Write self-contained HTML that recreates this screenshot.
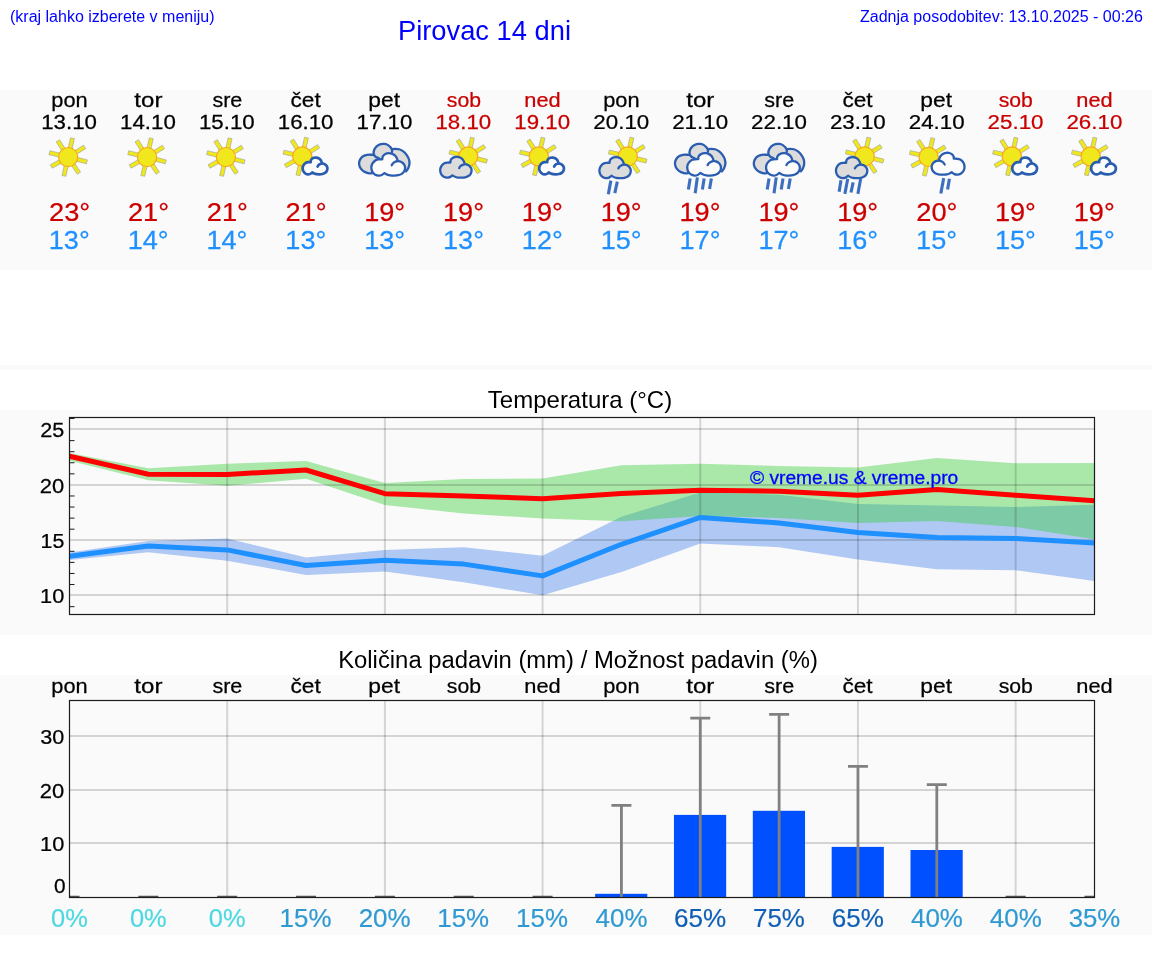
<!DOCTYPE html>
<html lang="sl">
<head>
<meta charset="utf-8">
<title>Pirovac 14 dni</title>
<style>
html,body{margin:0;padding:0;background:#fff}
body{width:1152px;height:975px;position:relative;overflow:hidden;font-family:"Liberation Sans",sans-serif;color:#000}
.abs{position:absolute;white-space:nowrap;line-height:1}
.band{position:absolute;left:0;width:1152px;background:#fafafa}
.hd{color:#0000ff;font-size:16px}
h1{margin:0;font-weight:normal;font-size:27.3px;color:#0000ff}
h2{margin:0;font-weight:normal;font-size:24px;color:#000;text-align:center;width:1152px;left:0}
svg{position:absolute;left:0;top:0;overflow:visible}
body>*{will-change:transform}
svg text{font-family:"Liberation Sans",sans-serif;font-kerning:none}
</style>
</head>
<body>
<div class="abs hd" style="left:10px;top:8.5px">(kraj lahko izberete v meniju)</div>
<h1 class="abs" style="left:398px;top:16.5px">Pirovac 14 dni</h1>
<div class="abs hd" style="right:9px;top:8.5px">Zadnja posodobitev: 13.10.2025 - 00:26</div>

<div class="band" style="top:90px;height:180px"></div>
<div class="band" style="top:365px;height:4.8px"></div>
<div class="band" style="top:410px;height:225px"></div>
<div class="band" style="top:675px;height:260px"></div>

<h2 class="abs" style="top:388px;left:4px">Temperatura (°C)</h2>
<h2 class="abs" style="top:648px;left:2px;font-size:23.85px">Količina padavin (mm) / Možnost padavin (%)</h2>

<svg width="1152" height="975" viewBox="0 0 1152 975">
<g id="table">
<g><text transform="translate(51.3 106.7) scale(1.06 1)" font-size="20.59" fill="#000" stroke="#000" stroke-width="0.25">pon</text><text transform="translate(41.21 129) scale(1.109 1)" font-size="20.1" fill="#000" stroke="#000" stroke-width="0.25">13.10</text><g transform="translate(68.2 157.1)"><g fill="#f0e81c" stroke="#8a94ad" stroke-opacity=".7" stroke-width=".7"><rect x="-2" y="-19.3" width="4" height="10.5" transform="rotate(12.6)"/><rect x="-2" y="-19.3" width="4" height="10.5" transform="rotate(58.2)"/><rect x="-2" y="-19.3" width="4" height="10.5" transform="rotate(104.2)"/><rect x="-2" y="-19.3" width="4" height="10.5" transform="rotate(146.3)"/><rect x="-2" y="-19.3" width="4" height="10.5" transform="rotate(192.8)"/><rect x="-2" y="-19.3" width="4" height="10.5" transform="rotate(240.9)"/><rect x="-2" y="-19.3" width="4" height="10.5" transform="rotate(283.2)"/><rect x="-2" y="-19.3" width="4" height="10.5" transform="rotate(327.7)"/></g><circle r="9.6" fill="#f0e81c" stroke="#f7a823" stroke-width="1.2"/></g><text transform="translate(49.04 221.2) scale(1.041 1)" font-size="26.16" fill="#cc0000" stroke="#cc0000" stroke-width="0.25">23°</text><text transform="translate(48.78 249.2) scale(1.036 1)" font-size="26.16" fill="#1e90ff" stroke="#1e90ff" stroke-width="0.25">13°</text></g>
<g><text transform="translate(134.31 106.7) scale(1.17 1)" font-size="20.59" fill="#000" stroke="#000" stroke-width="0.25">tor</text><text transform="translate(120.05 129) scale(1.109 1)" font-size="20.1" fill="#000" stroke="#000" stroke-width="0.25">14.10</text><g transform="translate(147.05 157.1)"><g fill="#f0e81c" stroke="#8a94ad" stroke-opacity=".7" stroke-width=".7"><rect x="-2" y="-19.3" width="4" height="10.5" transform="rotate(12.6)"/><rect x="-2" y="-19.3" width="4" height="10.5" transform="rotate(58.2)"/><rect x="-2" y="-19.3" width="4" height="10.5" transform="rotate(104.2)"/><rect x="-2" y="-19.3" width="4" height="10.5" transform="rotate(146.3)"/><rect x="-2" y="-19.3" width="4" height="10.5" transform="rotate(192.8)"/><rect x="-2" y="-19.3" width="4" height="10.5" transform="rotate(240.9)"/><rect x="-2" y="-19.3" width="4" height="10.5" transform="rotate(283.2)"/><rect x="-2" y="-19.3" width="4" height="10.5" transform="rotate(327.7)"/></g><circle r="9.6" fill="#f0e81c" stroke="#f7a823" stroke-width="1.2"/></g><text transform="translate(127.89 221.2) scale(1.041 1)" font-size="26.16" fill="#cc0000" stroke="#cc0000" stroke-width="0.25">21°</text><text transform="translate(127.63 249.2) scale(1.036 1)" font-size="26.16" fill="#1e90ff" stroke="#1e90ff" stroke-width="0.25">14°</text></g>
<g><text transform="translate(212.41 106.7) scale(1.046 1)" font-size="20.59" fill="#000" stroke="#000" stroke-width="0.25">sre</text><text transform="translate(198.9 129) scale(1.109 1)" font-size="20.1" fill="#000" stroke="#000" stroke-width="0.25">15.10</text><g transform="translate(225.89 157.1)"><g fill="#f0e81c" stroke="#8a94ad" stroke-opacity=".7" stroke-width=".7"><rect x="-2" y="-19.3" width="4" height="10.5" transform="rotate(12.6)"/><rect x="-2" y="-19.3" width="4" height="10.5" transform="rotate(58.2)"/><rect x="-2" y="-19.3" width="4" height="10.5" transform="rotate(104.2)"/><rect x="-2" y="-19.3" width="4" height="10.5" transform="rotate(146.3)"/><rect x="-2" y="-19.3" width="4" height="10.5" transform="rotate(192.8)"/><rect x="-2" y="-19.3" width="4" height="10.5" transform="rotate(240.9)"/><rect x="-2" y="-19.3" width="4" height="10.5" transform="rotate(283.2)"/><rect x="-2" y="-19.3" width="4" height="10.5" transform="rotate(327.7)"/></g><circle r="9.6" fill="#f0e81c" stroke="#f7a823" stroke-width="1.2"/></g><text transform="translate(206.74 221.2) scale(1.041 1)" font-size="26.16" fill="#cc0000" stroke="#cc0000" stroke-width="0.25">21°</text><text transform="translate(206.48 249.2) scale(1.036 1)" font-size="26.16" fill="#1e90ff" stroke="#1e90ff" stroke-width="0.25">14°</text></g>
<g><text transform="translate(290.52 106.7) scale(1.101 1)" font-size="20.59" fill="#000" stroke="#000" stroke-width="0.25">čet</text><text transform="translate(277.74 129) scale(1.109 1)" font-size="20.1" fill="#000" stroke="#000" stroke-width="0.25">16.10</text><g transform="translate(302.24 156.5)"><g fill="#f0e81c" stroke="#8a94ad" stroke-opacity=".7" stroke-width=".7"><rect x="-2" y="-19.3" width="4" height="10.5" transform="rotate(12.6)"/><rect x="-2" y="-19.3" width="4" height="10.5" transform="rotate(58.2)"/><rect x="-2" y="-19.3" width="4" height="10.5" transform="rotate(104.2)"/><rect x="-2" y="-19.3" width="4" height="10.5" transform="rotate(146.3)"/><rect x="-2" y="-19.3" width="4" height="10.5" transform="rotate(192.8)"/><rect x="-2" y="-19.3" width="4" height="10.5" transform="rotate(240.9)"/><rect x="-2" y="-19.3" width="4" height="10.5" transform="rotate(283.2)"/><rect x="-2" y="-19.3" width="4" height="10.5" transform="rotate(327.7)"/></g><circle r="9.6" fill="#f0e81c" stroke="#f7a823" stroke-width="1.2"/></g><path d="M312.3 172.4C311.96 172.65 311 173.55 310.29 173.87C309.57 174.19 308.78 174.36 307.99 174.31C307.2 174.26 306.27 173.99 305.55 173.58C304.83 173.16 304.15 172.5 303.69 171.82C303.22 171.13 302.91 170.3 302.77 169.47C302.62 168.64 302.62 167.66 302.82 166.83C303.03 166 303.45 165.17 303.97 164.48C304.5 163.8 305.26 163.11 305.98 162.72C306.7 162.33 307.49 162.24 308.28 162.14C309.07 162.03 310.31 162.09 310.72 162.08C310.74 161.79 310.65 160.93 310.86 160.38C311.08 159.82 311.48 159.2 312.01 158.76C312.54 158.32 313.3 157.93 314.02 157.73C314.74 157.54 315.55 157.49 316.31 157.59C317.08 157.69 317.94 157.98 318.61 158.32C319.28 158.66 319.88 159.15 320.33 159.64C320.79 160.13 321.06 160.64 321.34 161.26C321.62 161.87 321.89 162.97 322 163.31C322.29 163.46 323.15 163.5 323.78 163.75C324.41 164 325.24 164.41 325.79 164.92C326.34 165.44 326.82 166.17 327.08 166.83C327.34 167.49 327.44 168.15 327.37 168.88C327.29 169.62 327.05 170.55 326.65 171.23C326.24 171.92 325.64 172.53 324.93 172.99C324.21 173.46 323.25 173.8 322.34 174.02C321.43 174.24 320.43 174.29 319.47 174.31C318.52 174.34 317.46 174.29 316.6 174.17C315.74 174.04 315.02 173.87 314.31 173.58C313.59 173.29 312.63 172.6 312.3 172.4Z" fill="#fcfcfc" stroke="#2a5db0" stroke-width="2.7" stroke-linejoin="round"/><path d="M317.61 166.54C317.73 166.34 317.97 165.75 318.32 165.36C318.68 164.97 319.15 164.52 319.76 164.19C320.37 163.86 321.62 163.53 322 163.4" fill="none" stroke="#2a5db0" stroke-width="2.7" stroke-linecap="round"/><text transform="translate(285.58 221.2) scale(1.041 1)" font-size="26.16" fill="#cc0000" stroke="#cc0000" stroke-width="0.25">21°</text><text transform="translate(285.32 249.2) scale(1.036 1)" font-size="26.16" fill="#1e90ff" stroke="#1e90ff" stroke-width="0.25">13°</text></g>
<g><text transform="translate(368.37 106.7) scale(1.109 1)" font-size="20.59" fill="#000" stroke="#000" stroke-width="0.25">pet</text><text transform="translate(356.59 129) scale(1.109 1)" font-size="20.1" fill="#000" stroke="#000" stroke-width="0.25">17.10</text><path d="M372.51 173.09C371.95 173.13 370.33 173.49 369.11 173.33C367.9 173.17 366.44 172.72 365.22 172.11C364.01 171.51 362.75 170.65 361.82 169.68C360.89 168.71 360.08 167.49 359.63 166.28C359.19 165.06 358.98 163.65 359.14 162.39C359.31 161.13 359.87 159.8 360.6 158.74C361.33 157.69 362.43 156.72 363.52 156.07C364.61 155.42 365.91 155.07 367.17 154.86C368.42 154.64 369.99 154.73 371.06 154.76C372.12 154.78 373.16 154.96 373.58 155L373.73 153.64C373.81 152.99 373.69 151.01 374.22 149.75C374.74 148.49 375.8 147.04 376.89 146.1C377.98 145.17 379.48 144.52 380.78 144.16C382.07 143.8 383.45 143.75 384.67 143.92C385.88 144.08 387.06 144.52 388.07 145.13C389.08 145.74 390.08 146.71 390.74 147.56C391.41 148.41 391.84 149.79 392.06 150.24L392.2 149.26C392.67 149.18 393.86 148.78 395.02 148.78C396.18 148.78 397.78 148.82 399.15 149.26C400.52 149.71 401.97 150.48 403.24 151.45C404.5 152.42 405.78 153.76 406.74 155.1C407.69 156.44 408.52 158.02 408.97 159.47C409.43 160.93 409.59 162.39 409.46 163.85C409.33 165.31 408.76 166.97 408.2 168.22C407.63 169.48 406.41 170.86 406.06 171.38Z" fill="#dcdcdc"/><path d="M372.51 173.09C371.95 173.13 370.33 173.49 369.11 173.33C367.9 173.17 366.44 172.72 365.22 172.11C364.01 171.51 362.75 170.65 361.82 169.68C360.89 168.71 360.08 167.49 359.63 166.28C359.19 165.06 358.98 163.65 359.14 162.39C359.31 161.13 359.87 159.8 360.6 158.74C361.33 157.69 362.43 156.72 363.52 156.07C364.61 155.42 365.91 155.07 367.17 154.86C368.42 154.64 369.99 154.73 371.06 154.76C372.12 154.78 373.16 154.96 373.58 155" fill="none" stroke="#2a5db0" stroke-width="2.3" stroke-linecap="round"/><path d="M378.83 158.26C378.27 157.97 376.28 157.33 375.43 156.56C374.58 155.79 373.93 154.77 373.73 153.64C373.53 152.51 373.69 151.01 374.22 149.75C374.74 148.49 375.8 147.04 376.89 146.1C377.98 145.17 379.48 144.52 380.78 144.16C382.07 143.8 383.45 143.75 384.67 143.92C385.88 144.08 387.06 144.52 388.07 145.13C389.08 145.74 390.08 146.71 390.74 147.56C391.41 148.41 391.87 149.45 392.06 150.24C392.24 151.02 391.89 151.94 391.86 152.28" fill="none" stroke="#2a5db0" stroke-width="2.3" stroke-linecap="round"/><path d="M392.2 149.26C392.67 149.18 393.86 148.78 395.02 148.78C396.18 148.78 397.78 148.82 399.15 149.26C400.52 149.71 401.97 150.48 403.24 151.45C404.5 152.42 405.78 153.76 406.74 155.1C407.69 156.44 408.52 158.02 408.97 159.47C409.43 160.93 409.59 162.39 409.46 163.85C409.33 165.31 408.76 166.97 408.2 168.22C407.63 169.48 406.41 170.86 406.06 171.38" fill="none" stroke="#2a5db0" stroke-width="2.3" stroke-linecap="round"/><path d="M384.49 173.08C384.04 173.41 382.73 174.62 381.75 175.04C380.77 175.47 379.69 175.7 378.62 175.63C377.54 175.57 376.26 175.21 375.28 174.65C374.31 174.1 373.37 173.21 372.74 172.3C372.1 171.38 371.68 170.27 371.48 169.16C371.29 168.05 371.29 166.74 371.56 165.63C371.84 164.52 372.41 163.4 373.13 162.49C373.85 161.57 374.89 160.66 375.87 160.13C376.85 159.61 377.93 159.49 379.01 159.35C380.08 159.21 381.78 159.28 382.34 159.27C382.37 158.89 382.24 157.73 382.53 157C382.83 156.26 383.38 155.43 384.1 154.84C384.82 154.25 385.86 153.73 386.84 153.46C387.82 153.2 388.93 153.14 389.98 153.27C391.02 153.4 392.2 153.79 393.11 154.25C394.03 154.71 394.84 155.36 395.46 156.01C396.09 156.67 396.46 157.35 396.84 158.17C397.22 158.99 397.59 160.46 397.74 160.92C398.14 161.11 399.31 161.17 400.17 161.51C401.03 161.85 402.16 162.39 402.91 163.08C403.66 163.76 404.31 164.74 404.67 165.63C405.03 166.51 405.16 167.39 405.07 168.37C404.97 169.35 404.64 170.6 404.09 171.51C403.53 172.43 402.71 173.25 401.73 173.87C400.75 174.49 399.45 174.95 398.21 175.24C396.97 175.53 395.6 175.6 394.29 175.63C392.98 175.66 391.55 175.6 390.37 175.44C389.2 175.27 388.22 175.04 387.24 174.65C386.26 174.26 384.95 173.34 384.49 173.08Z" fill="#fcfcfc" stroke="#2a5db0" stroke-width="2.3" stroke-linejoin="round"/><path d="M391.74 165.23C391.91 164.97 392.23 164.19 392.72 163.67C393.21 163.14 393.85 162.53 394.68 162.1C395.52 161.66 397.23 161.21 397.74 161.04" fill="none" stroke="#2a5db0" stroke-width="2.3" stroke-linecap="round"/><text transform="translate(364.17 221.2) scale(1.036 1)" font-size="26.16" fill="#cc0000" stroke="#cc0000" stroke-width="0.25">19°</text><text transform="translate(364.17 249.2) scale(1.036 1)" font-size="26.16" fill="#1e90ff" stroke="#1e90ff" stroke-width="0.25">13°</text></g>
<g><text transform="translate(446.8 106.7) scale(1.029 1)" font-size="20.59" fill="#c80000" stroke="#c80000" stroke-width="0.25">sob</text><text transform="translate(435.44 129) scale(1.109 1)" font-size="20.1" fill="#c80000" stroke="#c80000" stroke-width="0.25">18.10</text><g transform="translate(468.23 156.5)"><g fill="#f0e81c" stroke="#8a94ad" stroke-opacity=".7" stroke-width=".7"><rect x="-2" y="-19.3" width="4" height="10.5" transform="rotate(12.6)"/><rect x="-2" y="-19.3" width="4" height="10.5" transform="rotate(58.2)"/><rect x="-2" y="-19.3" width="4" height="10.5" transform="rotate(104.2)"/><rect x="-2" y="-19.3" width="4" height="10.5" transform="rotate(146.3)"/><rect x="-2" y="-19.3" width="4" height="10.5" transform="rotate(192.8)"/><rect x="-2" y="-19.3" width="4" height="10.5" transform="rotate(240.9)"/><rect x="-2" y="-19.3" width="4" height="10.5" transform="rotate(283.2)"/><rect x="-2" y="-19.3" width="4" height="10.5" transform="rotate(327.7)"/></g><circle r="9.6" fill="#f0e81c" stroke="#f7a823" stroke-width="1.2"/></g><path d="M452.44 175.33C452.01 175.63 450.8 176.76 449.89 177.15C448.98 177.55 447.97 177.76 446.97 177.7C445.97 177.64 444.78 177.31 443.87 176.79C442.96 176.27 442.09 175.45 441.5 174.6C440.91 173.75 440.52 172.72 440.34 171.69C440.15 170.65 440.15 169.44 440.41 168.4C440.67 167.37 441.2 166.34 441.87 165.49C442.54 164.64 443.51 163.79 444.42 163.3C445.33 162.81 446.33 162.7 447.34 162.57C448.34 162.44 449.92 162.51 450.43 162.5C450.46 162.15 450.34 161.07 450.62 160.38C450.89 159.7 451.41 158.92 452.07 158.38C452.74 157.83 453.72 157.34 454.63 157.1C455.54 156.86 456.57 156.8 457.54 156.92C458.51 157.04 459.61 157.41 460.46 157.83C461.31 158.26 462.07 158.86 462.65 159.47C463.22 160.08 463.57 160.72 463.92 161.48C464.27 162.24 464.62 163.6 464.76 164.03C465.14 164.21 466.22 164.26 467.02 164.58C467.82 164.89 468.87 165.4 469.57 166.03C470.27 166.67 470.88 167.58 471.21 168.4C471.55 169.22 471.67 170.04 471.58 170.96C471.49 171.87 471.18 173.02 470.67 173.87C470.15 174.72 469.39 175.48 468.48 176.06C467.57 176.64 466.35 177.06 465.2 177.34C464.04 177.61 462.77 177.67 461.55 177.7C460.34 177.73 459 177.67 457.91 177.52C456.81 177.37 455.9 177.15 454.99 176.79C454.08 176.42 452.86 175.57 452.44 175.33Z" fill="#dcdcdc" stroke="#2a5db0" stroke-width="2.3" stroke-linejoin="round"/><path d="M459.18 168.04C459.33 167.8 459.64 167.07 460.09 166.58C460.55 166.09 461.14 165.53 461.92 165.12C462.69 164.72 464.29 164.3 464.76 164.14" fill="none" stroke="#2a5db0" stroke-width="2.3" stroke-linecap="round"/><text transform="translate(443.01 221.2) scale(1.036 1)" font-size="26.16" fill="#cc0000" stroke="#cc0000" stroke-width="0.25">19°</text><text transform="translate(443.01 249.2) scale(1.036 1)" font-size="26.16" fill="#1e90ff" stroke="#1e90ff" stroke-width="0.25">13°</text></g>
<g><text transform="translate(524.36 106.7) scale(1.059 1)" font-size="20.59" fill="#c80000" stroke="#c80000" stroke-width="0.25">ned</text><text transform="translate(514.28 129) scale(1.109 1)" font-size="20.1" fill="#c80000" stroke="#c80000" stroke-width="0.25">19.10</text><g transform="translate(538.78 156.5)"><g fill="#f0e81c" stroke="#8a94ad" stroke-opacity=".7" stroke-width=".7"><rect x="-2" y="-19.3" width="4" height="10.5" transform="rotate(12.6)"/><rect x="-2" y="-19.3" width="4" height="10.5" transform="rotate(58.2)"/><rect x="-2" y="-19.3" width="4" height="10.5" transform="rotate(104.2)"/><rect x="-2" y="-19.3" width="4" height="10.5" transform="rotate(146.3)"/><rect x="-2" y="-19.3" width="4" height="10.5" transform="rotate(192.8)"/><rect x="-2" y="-19.3" width="4" height="10.5" transform="rotate(240.9)"/><rect x="-2" y="-19.3" width="4" height="10.5" transform="rotate(283.2)"/><rect x="-2" y="-19.3" width="4" height="10.5" transform="rotate(327.7)"/></g><circle r="9.6" fill="#f0e81c" stroke="#f7a823" stroke-width="1.2"/></g><path d="M548.83 172.4C548.5 172.65 547.54 173.55 546.83 173.87C546.11 174.19 545.32 174.36 544.53 174.31C543.74 174.26 542.81 173.99 542.09 173.58C541.37 173.16 540.69 172.5 540.22 171.82C539.76 171.13 539.45 170.3 539.31 169.47C539.16 168.64 539.16 167.66 539.36 166.83C539.56 166 539.98 165.17 540.51 164.48C541.04 163.8 541.8 163.11 542.52 162.72C543.24 162.33 544.03 162.24 544.82 162.14C545.61 162.03 546.85 162.09 547.26 162.08C547.28 161.79 547.18 160.93 547.4 160.38C547.62 159.82 548.02 159.2 548.55 158.76C549.07 158.32 549.84 157.93 550.56 157.73C551.27 157.54 552.09 157.49 552.85 157.59C553.62 157.69 554.48 157.98 555.15 158.32C555.82 158.66 556.42 159.15 556.87 159.64C557.33 160.13 557.6 160.64 557.88 161.26C558.15 161.87 558.43 162.97 558.54 163.31C558.83 163.46 559.68 163.5 560.32 163.75C560.95 164 561.78 164.41 562.33 164.92C562.88 165.44 563.35 166.17 563.62 166.83C563.88 167.49 563.98 168.15 563.9 168.88C563.83 169.62 563.59 170.55 563.19 171.23C562.78 171.92 562.18 172.53 561.46 172.99C560.75 173.46 559.79 173.8 558.88 174.02C557.97 174.24 556.97 174.29 556.01 174.31C555.05 174.34 554 174.29 553.14 174.17C552.28 174.04 551.56 173.87 550.84 173.58C550.13 173.29 549.17 172.6 548.83 172.4Z" fill="#fcfcfc" stroke="#2a5db0" stroke-width="2.7" stroke-linejoin="round"/><path d="M554.14 166.54C554.26 166.34 554.5 165.75 554.86 165.36C555.22 164.97 555.69 164.52 556.3 164.19C556.91 163.86 558.16 163.53 558.54 163.4" fill="none" stroke="#2a5db0" stroke-width="2.7" stroke-linecap="round"/><text transform="translate(521.86 221.2) scale(1.036 1)" font-size="26.16" fill="#cc0000" stroke="#cc0000" stroke-width="0.25">19°</text><text transform="translate(521.86 249.2) scale(1.036 1)" font-size="26.16" fill="#1e90ff" stroke="#1e90ff" stroke-width="0.25">12°</text></g>
<g><text transform="translate(603.23 106.7) scale(1.06 1)" font-size="20.59" fill="#000" stroke="#000" stroke-width="0.25">pon</text><text transform="translate(593.34 129) scale(1.112 1)" font-size="20.1" fill="#000" stroke="#000" stroke-width="0.25">20.10</text><g transform="translate(627.72 156.4)"><g fill="#f0e81c" stroke="#8a94ad" stroke-opacity=".7" stroke-width=".7"><rect x="-2" y="-19.3" width="4" height="10.5" transform="rotate(12.6)"/><rect x="-2" y="-19.3" width="4" height="10.5" transform="rotate(58.2)"/><rect x="-2" y="-19.3" width="4" height="10.5" transform="rotate(104.2)"/><rect x="-2" y="-19.3" width="4" height="10.5" transform="rotate(146.3)"/><rect x="-2" y="-19.3" width="4" height="10.5" transform="rotate(192.8)"/><rect x="-2" y="-19.3" width="4" height="10.5" transform="rotate(240.9)"/><rect x="-2" y="-19.3" width="4" height="10.5" transform="rotate(283.2)"/><rect x="-2" y="-19.3" width="4" height="10.5" transform="rotate(327.7)"/></g><circle r="9.6" fill="#f0e81c" stroke="#f7a823" stroke-width="1.2"/></g><path d="M611.64 175.79C611.22 176.09 610 177.23 609.09 177.63C608.19 178.03 607.18 178.25 606.18 178.19C605.18 178.13 604 177.79 603.09 177.26C602.18 176.74 601.31 175.91 600.72 175.05C600.14 174.18 599.74 173.14 599.56 172.09C599.38 171.04 599.38 169.81 599.63 168.76C599.89 167.71 600.42 166.66 601.09 165.8C601.76 164.94 602.73 164.08 603.64 163.58C604.55 163.09 605.55 162.98 606.55 162.84C607.55 162.71 609.13 162.78 609.64 162.77C609.67 162.41 609.55 161.32 609.82 160.62C610.1 159.93 610.61 159.14 611.28 158.59C611.95 158.04 612.92 157.54 613.83 157.3C614.74 157.05 615.77 156.99 616.74 157.11C617.71 157.23 618.8 157.6 619.65 158.04C620.5 158.47 621.26 159.08 621.83 159.7C622.41 160.32 622.76 160.96 623.11 161.73C623.46 162.5 623.8 163.89 623.94 164.32C624.32 164.51 625.4 164.56 626.2 164.88C627 165.2 628.05 165.71 628.75 166.36C629.45 167 630.05 167.93 630.39 168.76C630.72 169.59 630.84 170.42 630.75 171.35C630.66 172.27 630.36 173.44 629.84 174.31C629.32 175.17 628.57 175.94 627.66 176.53C626.75 177.11 625.53 177.54 624.38 177.82C623.23 178.1 621.95 178.16 620.74 178.19C619.53 178.22 618.19 178.16 617.1 178C616.01 177.85 615.1 177.63 614.19 177.26C613.28 176.89 612.07 176.03 611.64 175.79Z" fill="#dcdcdc" stroke="#2a5db0" stroke-width="2.3" stroke-linejoin="round"/><path d="M618.38 168.39C618.53 168.14 618.83 167.4 619.29 166.91C619.74 166.42 620.33 165.84 621.11 165.43C621.88 165.02 623.47 164.6 623.94 164.43" fill="none" stroke="#2a5db0" stroke-width="2.3" stroke-linecap="round"/><g stroke="#3d6fbf" stroke-width="3.1"><path d="M610.82 180.6L608.32 194.2"/><path d="M617.32 181.7L614.82 193.2"/></g><text transform="translate(600.71 221.2) scale(1.036 1)" font-size="26.16" fill="#cc0000" stroke="#cc0000" stroke-width="0.25">19°</text><text transform="translate(600.71 249.2) scale(1.036 1)" font-size="26.16" fill="#1e90ff" stroke="#1e90ff" stroke-width="0.25">15°</text></g>
<g><text transform="translate(686.23 106.7) scale(1.17 1)" font-size="20.59" fill="#000" stroke="#000" stroke-width="0.25">tor</text><text transform="translate(672.19 129) scale(1.112 1)" font-size="20.1" fill="#000" stroke="#000" stroke-width="0.25">21.10</text><path d="M688.4 173.09C687.83 173.13 686.21 173.49 685 173.33C683.78 173.17 682.32 172.72 681.11 172.11C679.89 171.51 678.63 170.65 677.7 169.68C676.77 168.71 675.96 167.49 675.52 166.28C675.07 165.06 674.87 163.65 675.03 162.39C675.19 161.13 675.76 159.8 676.49 158.74C677.22 157.69 678.31 156.72 679.4 156.07C680.5 155.42 681.79 155.07 683.05 154.86C684.31 154.64 685.87 154.73 686.94 154.76C688.01 154.78 689.05 154.96 689.47 155L689.61 153.64C689.69 152.99 689.57 151.01 690.1 149.75C690.63 148.49 691.68 147.04 692.77 146.1C693.87 145.17 695.37 144.52 696.66 144.16C697.96 143.8 699.34 143.75 700.55 143.92C701.77 144.08 702.94 144.52 703.95 145.13C704.97 145.74 705.96 146.71 706.63 147.56C707.29 148.41 707.72 149.79 707.94 150.24L708.09 149.26C708.56 149.18 709.75 148.78 710.91 148.78C712.07 148.78 713.67 148.82 715.04 149.26C716.41 149.71 717.86 150.48 719.12 151.45C720.39 152.42 721.67 153.76 722.62 155.1C723.58 156.44 724.41 158.02 724.86 159.47C725.31 160.93 725.47 162.39 725.35 163.85C725.22 165.31 724.65 166.97 724.08 168.22C723.51 169.48 722.3 170.86 721.94 171.38Z" fill="#dcdcdc"/><path d="M688.4 173.09C687.83 173.13 686.21 173.49 685 173.33C683.78 173.17 682.32 172.72 681.11 172.11C679.89 171.51 678.63 170.65 677.7 169.68C676.77 168.71 675.96 167.49 675.52 166.28C675.07 165.06 674.87 163.65 675.03 162.39C675.19 161.13 675.76 159.8 676.49 158.74C677.22 157.69 678.31 156.72 679.4 156.07C680.5 155.42 681.79 155.07 683.05 154.86C684.31 154.64 685.87 154.73 686.94 154.76C688.01 154.78 689.05 154.96 689.47 155" fill="none" stroke="#2a5db0" stroke-width="2.3" stroke-linecap="round"/><path d="M694.72 158.26C694.15 157.97 692.17 157.33 691.32 156.56C690.46 155.79 689.82 154.77 689.61 153.64C689.41 152.51 689.57 151.01 690.1 149.75C690.63 148.49 691.68 147.04 692.77 146.1C693.87 145.17 695.37 144.52 696.66 144.16C697.96 143.8 699.34 143.75 700.55 143.92C701.77 144.08 702.94 144.52 703.95 145.13C704.97 145.74 705.96 146.71 706.63 147.56C707.29 148.41 707.75 149.45 707.94 150.24C708.13 151.02 707.78 151.94 707.75 152.28" fill="none" stroke="#2a5db0" stroke-width="2.3" stroke-linecap="round"/><path d="M708.09 149.26C708.56 149.18 709.75 148.78 710.91 148.78C712.07 148.78 713.67 148.82 715.04 149.26C716.41 149.71 717.86 150.48 719.12 151.45C720.39 152.42 721.67 153.76 722.62 155.1C723.58 156.44 724.41 158.02 724.86 159.47C725.31 160.93 725.47 162.39 725.35 163.85C725.22 165.31 724.65 166.97 724.08 168.22C723.51 169.48 722.3 170.86 721.94 171.38" fill="none" stroke="#2a5db0" stroke-width="2.3" stroke-linecap="round"/><path d="M700.38 172.98C699.92 173.31 698.61 174.52 697.63 174.94C696.66 175.37 695.58 175.6 694.5 175.53C693.42 175.47 692.15 175.11 691.17 174.55C690.19 174 689.26 173.11 688.62 172.2C687.99 171.28 687.56 170.17 687.37 169.06C687.17 167.95 687.17 166.64 687.45 165.53C687.72 164.42 688.3 163.3 689.01 162.39C689.73 161.47 690.78 160.56 691.76 160.03C692.74 159.51 693.81 159.39 694.89 159.25C695.97 159.11 697.67 159.18 698.22 159.17C698.26 158.79 698.12 157.63 698.42 156.9C698.71 156.16 699.27 155.33 699.99 154.74C700.7 154.15 701.75 153.63 702.73 153.36C703.71 153.1 704.82 153.04 705.86 153.17C706.91 153.3 708.08 153.69 709 154.15C709.91 154.61 710.73 155.26 711.35 155.91C711.97 156.57 712.34 157.25 712.72 158.07C713.1 158.89 713.47 160.36 713.62 160.82C714.03 161.01 715.19 161.07 716.05 161.41C716.91 161.75 718.04 162.29 718.79 162.98C719.55 163.66 720.2 164.64 720.56 165.53C720.92 166.41 721.05 167.29 720.95 168.27C720.85 169.25 720.53 170.5 719.97 171.41C719.42 172.33 718.6 173.15 717.62 173.77C716.64 174.39 715.33 174.85 714.09 175.14C712.85 175.43 711.48 175.5 710.17 175.53C708.87 175.56 707.43 175.5 706.26 175.34C705.08 175.17 704.1 174.94 703.12 174.55C702.14 174.16 700.83 173.24 700.38 172.98Z" fill="#fcfcfc" stroke="#2a5db0" stroke-width="2.3" stroke-linejoin="round"/><path d="M707.63 165.13C707.79 164.87 708.12 164.09 708.61 163.57C709.1 163.04 709.73 162.43 710.57 162C711.4 161.56 713.11 161.11 713.62 160.94" fill="none" stroke="#2a5db0" stroke-width="2.3" stroke-linecap="round"/><g stroke="#3d6fbf" stroke-width="3.1"><path d="M690.17 178.5L688.37 189.6"/><path d="M697.37 177.4L695.17 193.2"/><path d="M704.17 178.5L702.37 189.6"/><path d="M711.37 178.5L709.57 188.9"/></g><text transform="translate(679.55 221.2) scale(1.036 1)" font-size="26.16" fill="#cc0000" stroke="#cc0000" stroke-width="0.25">19°</text><text transform="translate(679.55 249.2) scale(1.036 1)" font-size="26.16" fill="#1e90ff" stroke="#1e90ff" stroke-width="0.25">17°</text></g>
<g><text transform="translate(764.33 106.7) scale(1.046 1)" font-size="20.59" fill="#000" stroke="#000" stroke-width="0.25">sre</text><text transform="translate(751.03 129) scale(1.112 1)" font-size="20.1" fill="#000" stroke="#000" stroke-width="0.25">22.10</text><path d="M767.24 173.09C766.68 173.13 765.06 173.49 763.84 173.33C762.63 173.17 761.17 172.72 759.95 172.11C758.74 171.51 757.48 170.65 756.55 169.68C755.62 168.71 754.81 167.49 754.36 166.28C753.92 165.06 753.71 163.65 753.88 162.39C754.04 161.13 754.6 159.8 755.33 158.74C756.06 157.69 757.16 156.72 758.25 156.07C759.34 155.42 760.64 155.07 761.9 154.86C763.15 154.64 764.72 154.73 765.79 154.76C766.86 154.78 767.89 154.96 768.31 155L768.46 153.64C768.54 152.99 768.42 151.01 768.95 149.75C769.47 148.49 770.53 147.04 771.62 146.1C772.71 145.17 774.21 144.52 775.51 144.16C776.81 143.8 778.18 143.75 779.4 143.92C780.61 144.08 781.79 144.52 782.8 145.13C783.81 145.74 784.81 146.71 785.47 147.56C786.14 148.41 786.57 149.79 786.79 150.24L786.93 149.26C787.4 149.18 788.59 148.78 789.75 148.78C790.91 148.78 792.52 148.82 793.89 149.26C795.25 149.71 796.7 150.48 797.97 151.45C799.23 152.42 800.51 153.76 801.47 155.1C802.42 156.44 803.25 158.02 803.71 159.47C804.16 160.93 804.32 162.39 804.19 163.85C804.06 165.31 803.49 166.97 802.93 168.22C802.36 169.48 801.14 170.86 800.79 171.38Z" fill="#dcdcdc"/><path d="M767.24 173.09C766.68 173.13 765.06 173.49 763.84 173.33C762.63 173.17 761.17 172.72 759.95 172.11C758.74 171.51 757.48 170.65 756.55 169.68C755.62 168.71 754.81 167.49 754.36 166.28C753.92 165.06 753.71 163.65 753.88 162.39C754.04 161.13 754.6 159.8 755.33 158.74C756.06 157.69 757.16 156.72 758.25 156.07C759.34 155.42 760.64 155.07 761.9 154.86C763.15 154.64 764.72 154.73 765.79 154.76C766.86 154.78 767.89 154.96 768.31 155" fill="none" stroke="#2a5db0" stroke-width="2.3" stroke-linecap="round"/><path d="M773.56 158.26C773 157.97 771.01 157.33 770.16 156.56C769.31 155.79 768.66 154.77 768.46 153.64C768.26 152.51 768.42 151.01 768.95 149.75C769.47 148.49 770.53 147.04 771.62 146.1C772.71 145.17 774.21 144.52 775.51 144.16C776.81 143.8 778.18 143.75 779.4 143.92C780.61 144.08 781.79 144.52 782.8 145.13C783.81 145.74 784.81 146.71 785.47 147.56C786.14 148.41 786.6 149.45 786.79 150.24C786.97 151.02 786.63 151.94 786.59 152.28" fill="none" stroke="#2a5db0" stroke-width="2.3" stroke-linecap="round"/><path d="M786.93 149.26C787.4 149.18 788.59 148.78 789.75 148.78C790.91 148.78 792.52 148.82 793.89 149.26C795.25 149.71 796.7 150.48 797.97 151.45C799.23 152.42 800.51 153.76 801.47 155.1C802.42 156.44 803.25 158.02 803.71 159.47C804.16 160.93 804.32 162.39 804.19 163.85C804.06 165.31 803.49 166.97 802.93 168.22C802.36 169.48 801.14 170.86 800.79 171.38" fill="none" stroke="#2a5db0" stroke-width="2.3" stroke-linecap="round"/><path d="M779.22 172.98C778.77 173.31 777.46 174.52 776.48 174.94C775.5 175.37 774.42 175.6 773.35 175.53C772.27 175.47 771 175.11 770.02 174.55C769.04 174 768.1 173.11 767.47 172.2C766.83 171.28 766.41 170.17 766.21 169.06C766.02 167.95 766.02 166.64 766.29 165.53C766.57 164.42 767.14 163.3 767.86 162.39C768.58 161.47 769.62 160.56 770.6 160.03C771.58 159.51 772.66 159.39 773.74 159.25C774.82 159.11 776.51 159.18 777.07 159.17C777.1 158.79 776.97 157.63 777.26 156.9C777.56 156.16 778.11 155.33 778.83 154.74C779.55 154.15 780.6 153.63 781.58 153.36C782.55 153.1 783.66 153.04 784.71 153.17C785.75 153.3 786.93 153.69 787.84 154.15C788.76 154.61 789.58 155.26 790.2 155.91C790.82 156.57 791.19 157.25 791.57 158.07C791.95 158.89 792.32 160.36 792.47 160.82C792.87 161.01 794.04 161.07 794.9 161.41C795.76 161.75 796.89 162.29 797.64 162.98C798.39 163.66 799.04 164.64 799.4 165.53C799.76 166.41 799.89 167.29 799.8 168.27C799.7 169.25 799.37 170.5 798.82 171.41C798.26 172.33 797.44 173.15 796.47 173.77C795.49 174.39 794.18 174.85 792.94 175.14C791.7 175.43 790.33 175.5 789.02 175.53C787.71 175.56 786.28 175.5 785.1 175.34C783.93 175.17 782.95 174.94 781.97 174.55C780.99 174.16 779.68 173.24 779.22 172.98Z" fill="#fcfcfc" stroke="#2a5db0" stroke-width="2.3" stroke-linejoin="round"/><path d="M786.47 165.13C786.64 164.87 786.96 164.09 787.45 163.57C787.94 163.04 788.58 162.43 789.41 162C790.25 161.56 791.96 161.11 792.47 160.94" fill="none" stroke="#2a5db0" stroke-width="2.3" stroke-linecap="round"/><g stroke="#3d6fbf" stroke-width="3.1"><path d="M769.02 178.5L767.22 189.6"/><path d="M776.22 177.4L774.02 193.2"/><path d="M783.02 178.5L781.22 189.6"/><path d="M790.22 178.5L788.42 188.9"/></g><text transform="translate(758.4 221.2) scale(1.036 1)" font-size="26.16" fill="#cc0000" stroke="#cc0000" stroke-width="0.25">19°</text><text transform="translate(758.4 249.2) scale(1.036 1)" font-size="26.16" fill="#1e90ff" stroke="#1e90ff" stroke-width="0.25">17°</text></g>
<g><text transform="translate(842.44 106.7) scale(1.101 1)" font-size="20.59" fill="#000" stroke="#000" stroke-width="0.25">čet</text><text transform="translate(829.88 129) scale(1.112 1)" font-size="20.1" fill="#000" stroke="#000" stroke-width="0.25">23.10</text><g transform="translate(864.66 156.4)"><g fill="#f0e81c" stroke="#8a94ad" stroke-opacity=".7" stroke-width=".7"><rect x="-2" y="-19.3" width="4" height="10.5" transform="rotate(12.6)"/><rect x="-2" y="-19.3" width="4" height="10.5" transform="rotate(58.2)"/><rect x="-2" y="-19.3" width="4" height="10.5" transform="rotate(104.2)"/><rect x="-2" y="-19.3" width="4" height="10.5" transform="rotate(146.3)"/><rect x="-2" y="-19.3" width="4" height="10.5" transform="rotate(192.8)"/><rect x="-2" y="-19.3" width="4" height="10.5" transform="rotate(240.9)"/><rect x="-2" y="-19.3" width="4" height="10.5" transform="rotate(283.2)"/><rect x="-2" y="-19.3" width="4" height="10.5" transform="rotate(327.7)"/></g><circle r="9.6" fill="#f0e81c" stroke="#f7a823" stroke-width="1.2"/></g><path d="M848.18 175.79C847.76 176.09 846.54 177.23 845.63 177.63C844.72 178.03 843.72 178.25 842.72 178.19C841.72 178.13 840.54 177.79 839.63 177.26C838.72 176.74 837.85 175.91 837.26 175.05C836.67 174.18 836.28 173.14 836.1 172.09C835.92 171.04 835.92 169.81 836.17 168.76C836.43 167.71 836.96 166.66 837.63 165.8C838.29 164.94 839.26 164.08 840.17 163.58C841.08 163.09 842.08 162.98 843.09 162.84C844.09 162.71 845.66 162.78 846.18 162.77C846.21 162.41 846.09 161.32 846.36 160.62C846.63 159.93 847.15 159.14 847.82 158.59C848.48 158.04 849.45 157.54 850.36 157.3C851.27 157.05 852.31 156.99 853.28 157.11C854.25 157.23 855.34 157.6 856.19 158.04C857.04 158.47 857.8 159.08 858.37 159.7C858.95 160.32 859.29 160.96 859.65 161.73C860 162.5 860.34 163.89 860.48 164.32C860.86 164.51 861.94 164.56 862.74 164.88C863.54 165.2 864.59 165.71 865.29 166.36C865.98 167 866.59 167.93 866.92 168.76C867.26 169.59 867.38 170.42 867.29 171.35C867.2 172.27 866.89 173.44 866.38 174.31C865.86 175.17 865.1 175.94 864.19 176.53C863.28 177.11 862.07 177.54 860.92 177.82C859.77 178.1 858.49 178.16 857.28 178.19C856.07 178.22 854.73 178.16 853.64 178C852.55 177.85 851.64 177.63 850.73 177.26C849.82 176.89 848.61 176.03 848.18 175.79Z" fill="#dcdcdc" stroke="#2a5db0" stroke-width="2.3" stroke-linejoin="round"/><path d="M854.91 168.39C855.07 168.14 855.37 167.4 855.82 166.91C856.28 166.42 856.87 165.84 857.64 165.43C858.42 165.02 860.01 164.6 860.48 164.43" fill="none" stroke="#2a5db0" stroke-width="2.3" stroke-linecap="round"/><g stroke="#3d6fbf" stroke-width="3.1"><path d="M840.96 180.3L839.16 191.7"/><path d="M847.76 178.8L844.86 193.9"/><path d="M853.16 182.4L850.96 192.5"/><path d="M860.66 178.8L857.86 193.9"/></g><text transform="translate(837.24 221.2) scale(1.036 1)" font-size="26.16" fill="#cc0000" stroke="#cc0000" stroke-width="0.25">19°</text><text transform="translate(837.24 249.2) scale(1.036 1)" font-size="26.16" fill="#1e90ff" stroke="#1e90ff" stroke-width="0.25">16°</text></g>
<g><text transform="translate(920.29 106.7) scale(1.109 1)" font-size="20.59" fill="#000" stroke="#000" stroke-width="0.25">pet</text><text transform="translate(908.72 129) scale(1.112 1)" font-size="20.1" fill="#000" stroke="#000" stroke-width="0.25">24.10</text><g transform="translate(928.61 156.9)"><g fill="#f0e81c" stroke="#8a94ad" stroke-opacity=".7" stroke-width=".7"><rect x="-2" y="-19.3" width="4" height="10.5" transform="rotate(12.6)"/><rect x="-2" y="-19.3" width="4" height="10.5" transform="rotate(58.2)"/><rect x="-2" y="-19.3" width="4" height="10.5" transform="rotate(104.2)"/><rect x="-2" y="-19.3" width="4" height="10.5" transform="rotate(146.3)"/><rect x="-2" y="-19.3" width="4" height="10.5" transform="rotate(192.8)"/><rect x="-2" y="-19.3" width="4" height="10.5" transform="rotate(240.9)"/><rect x="-2" y="-19.3" width="4" height="10.5" transform="rotate(283.2)"/><rect x="-2" y="-19.3" width="4" height="10.5" transform="rotate(327.7)"/></g><circle r="9.6" fill="#f0e81c" stroke="#f7a823" stroke-width="1.2"/></g><path d="M951.71 172.19C952.16 172.51 953.43 173.69 954.38 174.11C955.34 174.53 956.38 174.75 957.43 174.68C958.48 174.62 959.72 174.27 960.67 173.73C961.63 173.18 962.53 172.32 963.15 171.42C963.77 170.53 964.18 169.44 964.37 168.35C964.56 167.27 964.56 165.99 964.29 164.9C964.03 163.81 963.47 162.73 962.77 161.83C962.07 160.94 961.05 160.04 960.1 159.53C959.15 159.02 958.1 158.9 957.05 158.76C956 158.62 954.35 158.7 953.81 158.69C953.78 158.31 953.91 157.18 953.62 156.46C953.33 155.74 952.79 154.93 952.1 154.35C951.4 153.77 950.38 153.26 949.43 153.01C948.47 152.75 947.39 152.69 946.38 152.82C945.36 152.94 944.22 153.33 943.33 153.77C942.44 154.22 941.65 154.86 941.04 155.5C940.44 156.14 940.08 156.81 939.71 157.61C939.34 158.41 938.98 159.85 938.83 160.3C938.44 160.49 937.31 160.54 936.47 160.87C935.63 161.2 934.53 161.74 933.8 162.41C933.07 163.08 932.43 164.04 932.08 164.9C931.73 165.76 931.61 166.63 931.7 167.59C931.8 168.55 932.12 169.76 932.66 170.66C933.2 171.55 933.99 172.35 934.94 172.96C935.9 173.57 937.17 174.01 938.37 174.3C939.58 174.59 940.91 174.65 942.19 174.68C943.46 174.72 944.85 174.65 946 174.49C947.14 174.33 948.09 174.11 949.05 173.73C950 173.34 951.27 172.45 951.71 172.19Z" fill="#fcfcfc" stroke="#2a5db0" stroke-width="2.3" stroke-linejoin="round"/><path d="M944.66 164.52C944.5 164.26 944.19 163.49 943.71 162.98C943.23 162.47 942.62 161.88 941.8 161.45C940.99 161.02 939.33 160.58 938.83 160.41" fill="none" stroke="#2a5db0" stroke-width="2.3" stroke-linecap="round"/><g stroke="#3d6fbf" stroke-width="3.1"><path d="M943.71 178.1L940.81 193.5"/><path d="M949.41 178.8L947.61 189.6"/></g><text transform="translate(916.35 221.2) scale(1.041 1)" font-size="26.16" fill="#cc0000" stroke="#cc0000" stroke-width="0.25">20°</text><text transform="translate(916.09 249.2) scale(1.036 1)" font-size="26.16" fill="#1e90ff" stroke="#1e90ff" stroke-width="0.25">15°</text></g>
<g><text transform="translate(998.73 106.7) scale(1.029 1)" font-size="20.59" fill="#c80000" stroke="#c80000" stroke-width="0.25">sob</text><text transform="translate(987.57 129) scale(1.112 1)" font-size="20.1" fill="#c80000" stroke="#c80000" stroke-width="0.25">25.10</text><g transform="translate(1011.85 156.5)"><g fill="#f0e81c" stroke="#8a94ad" stroke-opacity=".7" stroke-width=".7"><rect x="-2" y="-19.3" width="4" height="10.5" transform="rotate(12.6)"/><rect x="-2" y="-19.3" width="4" height="10.5" transform="rotate(58.2)"/><rect x="-2" y="-19.3" width="4" height="10.5" transform="rotate(104.2)"/><rect x="-2" y="-19.3" width="4" height="10.5" transform="rotate(146.3)"/><rect x="-2" y="-19.3" width="4" height="10.5" transform="rotate(192.8)"/><rect x="-2" y="-19.3" width="4" height="10.5" transform="rotate(240.9)"/><rect x="-2" y="-19.3" width="4" height="10.5" transform="rotate(283.2)"/><rect x="-2" y="-19.3" width="4" height="10.5" transform="rotate(327.7)"/></g><circle r="9.6" fill="#f0e81c" stroke="#f7a823" stroke-width="1.2"/></g><path d="M1021.91 172.4C1021.58 172.65 1020.62 173.55 1019.9 173.87C1019.19 174.19 1018.4 174.36 1017.61 174.31C1016.82 174.26 1015.88 173.99 1015.17 173.58C1014.45 173.16 1013.77 172.5 1013.3 171.82C1012.84 171.13 1012.53 170.3 1012.38 169.47C1012.24 168.64 1012.24 167.66 1012.44 166.83C1012.64 166 1013.06 165.17 1013.59 164.48C1014.11 163.8 1014.88 163.11 1015.6 162.72C1016.31 162.33 1017.1 162.24 1017.89 162.14C1018.68 162.03 1019.93 162.09 1020.33 162.08C1020.36 161.79 1020.26 160.93 1020.48 160.38C1020.69 159.82 1021.1 159.2 1021.62 158.76C1022.15 158.32 1022.92 157.93 1023.63 157.73C1024.35 157.54 1025.16 157.49 1025.93 157.59C1026.7 157.69 1027.56 157.98 1028.23 158.32C1028.9 158.66 1029.49 159.15 1029.95 159.64C1030.4 160.13 1030.68 160.64 1030.95 161.26C1031.23 161.87 1031.5 162.97 1031.61 163.31C1031.91 163.46 1032.76 163.5 1033.39 163.75C1034.02 164 1034.85 164.41 1035.4 164.92C1035.95 165.44 1036.43 166.17 1036.69 166.83C1036.96 167.49 1037.05 168.15 1036.98 168.88C1036.91 169.62 1036.67 170.55 1036.26 171.23C1035.86 171.92 1035.26 172.53 1034.54 172.99C1033.82 173.46 1032.87 173.8 1031.96 174.02C1031.05 174.24 1030.04 174.29 1029.09 174.31C1028.13 174.34 1027.08 174.29 1026.22 174.17C1025.36 174.04 1024.64 173.87 1023.92 173.58C1023.2 173.29 1022.25 172.6 1021.91 172.4Z" fill="#fcfcfc" stroke="#2a5db0" stroke-width="2.7" stroke-linejoin="round"/><path d="M1027.22 166.54C1027.34 166.34 1027.58 165.75 1027.94 165.36C1028.3 164.97 1028.76 164.52 1029.37 164.19C1029.99 163.86 1031.24 163.53 1031.61 163.4" fill="none" stroke="#2a5db0" stroke-width="2.7" stroke-linecap="round"/><text transform="translate(994.94 221.2) scale(1.036 1)" font-size="26.16" fill="#cc0000" stroke="#cc0000" stroke-width="0.25">19°</text><text transform="translate(994.94 249.2) scale(1.036 1)" font-size="26.16" fill="#1e90ff" stroke="#1e90ff" stroke-width="0.25">15°</text></g>
<g><text transform="translate(1076.29 106.7) scale(1.059 1)" font-size="20.59" fill="#c80000" stroke="#c80000" stroke-width="0.25">ned</text><text transform="translate(1066.42 129) scale(1.112 1)" font-size="20.1" fill="#c80000" stroke="#c80000" stroke-width="0.25">26.10</text><g transform="translate(1090.7 156.5)"><g fill="#f0e81c" stroke="#8a94ad" stroke-opacity=".7" stroke-width=".7"><rect x="-2" y="-19.3" width="4" height="10.5" transform="rotate(12.6)"/><rect x="-2" y="-19.3" width="4" height="10.5" transform="rotate(58.2)"/><rect x="-2" y="-19.3" width="4" height="10.5" transform="rotate(104.2)"/><rect x="-2" y="-19.3" width="4" height="10.5" transform="rotate(146.3)"/><rect x="-2" y="-19.3" width="4" height="10.5" transform="rotate(192.8)"/><rect x="-2" y="-19.3" width="4" height="10.5" transform="rotate(240.9)"/><rect x="-2" y="-19.3" width="4" height="10.5" transform="rotate(283.2)"/><rect x="-2" y="-19.3" width="4" height="10.5" transform="rotate(327.7)"/></g><circle r="9.6" fill="#f0e81c" stroke="#f7a823" stroke-width="1.2"/></g><path d="M1100.76 172.4C1100.42 172.65 1099.47 173.55 1098.75 173.87C1098.03 174.19 1097.24 174.36 1096.45 174.31C1095.66 174.26 1094.73 173.99 1094.01 173.58C1093.3 173.16 1092.61 172.5 1092.15 171.82C1091.68 171.13 1091.37 170.3 1091.23 169.47C1091.09 168.64 1091.09 167.66 1091.29 166.83C1091.49 166 1091.91 165.17 1092.43 164.48C1092.96 163.8 1093.73 163.11 1094.44 162.72C1095.16 162.33 1095.95 162.24 1096.74 162.14C1097.53 162.03 1098.77 162.09 1099.18 162.08C1099.2 161.79 1099.11 160.93 1099.32 160.38C1099.54 159.82 1099.94 159.2 1100.47 158.76C1101 158.32 1101.76 157.93 1102.48 157.73C1103.2 157.54 1104.01 157.49 1104.78 157.59C1105.54 157.69 1106.4 157.98 1107.07 158.32C1107.74 158.66 1108.34 159.15 1108.79 159.64C1109.25 160.13 1109.52 160.64 1109.8 161.26C1110.08 161.87 1110.35 162.97 1110.46 163.31C1110.76 163.46 1111.61 163.5 1112.24 163.75C1112.87 164 1113.7 164.41 1114.25 164.92C1114.8 165.44 1115.28 166.17 1115.54 166.83C1115.8 167.49 1115.9 168.15 1115.83 168.88C1115.76 169.62 1115.52 170.55 1115.11 171.23C1114.7 171.92 1114.1 172.53 1113.39 172.99C1112.67 173.46 1111.71 173.8 1110.8 174.02C1109.89 174.24 1108.89 174.29 1107.93 174.31C1106.98 174.34 1105.92 174.29 1105.06 174.17C1104.2 174.04 1103.48 173.87 1102.77 173.58C1102.05 173.29 1101.09 172.6 1100.76 172.4Z" fill="#fcfcfc" stroke="#2a5db0" stroke-width="2.7" stroke-linejoin="round"/><path d="M1106.07 166.54C1106.19 166.34 1106.43 165.75 1106.79 165.36C1107.14 164.97 1107.61 164.52 1108.22 164.19C1108.83 163.86 1110.09 163.53 1110.46 163.4" fill="none" stroke="#2a5db0" stroke-width="2.7" stroke-linecap="round"/><text transform="translate(1073.78 221.2) scale(1.036 1)" font-size="26.16" fill="#cc0000" stroke="#cc0000" stroke-width="0.25">19°</text><text transform="translate(1073.78 249.2) scale(1.036 1)" font-size="26.16" fill="#1e90ff" stroke="#1e90ff" stroke-width="0.25">15°</text></g>
</g>
<g id="temperature">
<rect x="69.5" y="417.5" width="1025.0" height="197.0" fill="#fafafa"/>
<clipPath id="cT"><rect x="69.5" y="417.5" width="1025.0" height="197.0"/></clipPath>
<g clip-path="url(#cT)">
<polygon points="69.5,552.4 148.35,540.9 227.19,538.6 306.04,557.4 384.88,549.9 463.73,547.2 542.58,555.8 621.42,516.7 700.27,492.4 779.12,494.8 857.96,504.1 936.81,505.5 1015.65,507 1094.5,504.8 1094.5,581 1015.65,570.2 936.81,569.2 857.96,559.6 779.12,547.2 700.27,543.4 621.42,572 542.58,595.3 463.73,582.2 384.88,571.4 306.04,575 227.19,560.7 148.35,552.2 69.5,560" fill="#6495ed" fill-opacity=".5"/>
<polygon points="69.5,453.1 148.35,468.2 227.19,463.7 306.04,461 384.88,482.9 463.73,479 542.58,478.4 621.42,465.3 700.27,463.7 779.12,466 857.96,467.5 936.81,458.1 1015.65,463.2 1094.5,463 1094.5,539.2 1015.65,526.9 936.81,521 857.96,523.1 779.12,517.9 700.27,516 621.42,521.2 542.58,518.5 463.73,513.4 384.88,505 306.04,478.8 227.19,485.8 148.35,480.2 69.5,460.8" fill="#32cd32" fill-opacity=".4"/>
<g stroke="#000" stroke-opacity=".15" stroke-width="2"><path d="M69.5 595H1094.5"/><path d="M69.5 540H1094.5"/><path d="M69.5 485H1094.5"/><path d="M69.5 429H1094.5"/><path d="M227.19 417.5V614.5"/><path d="M384.88 417.5V614.5"/><path d="M542.58 417.5V614.5"/><path d="M700.27 417.5V614.5"/><path d="M857.96 417.5V614.5"/><path d="M1015.65 417.5V614.5"/></g>
<polyline points="69.5,556.2 148.35,546.1 227.19,549.9 306.04,565.5 384.88,560.3 463.73,564.1 542.58,575.9 621.42,544.3 700.27,517.4 779.12,523.1 857.96,532.5 936.81,537.5 1015.65,538.4 1094.5,543.1" fill="none" stroke="#1e90ff" stroke-width="5" stroke-linejoin="round"/>
<polyline points="69.5,456.2 148.35,474.3 227.19,474.5 306.04,470 384.88,493.7 463.73,496 542.58,498.7 621.42,493.5 700.27,490.3 779.12,491.2 857.96,495.3 936.81,489.5 1015.65,495.3 1094.5,500.7" fill="none" stroke="#f00" stroke-width="5" stroke-linejoin="round"/>
</g>
<g stroke="#000" stroke-width=".9"><path d="M69.5 606.67h5"/><path d="M69.5 584.53h5"/><path d="M69.5 573.46h5"/><path d="M69.5 562.39h5"/><path d="M69.5 551.32h5"/><path d="M69.5 529.18h5"/><path d="M69.5 518.11h5"/><path d="M69.5 507.04h5"/><path d="M69.5 495.97h5"/><path d="M69.5 473.83h5"/><path d="M69.5 462.76h5"/><path d="M69.5 451.69h5"/><path d="M69.5 440.62h5"/><path d="M69.5 418.48h5"/></g>
<rect x="69.5" y="417.5" width="1025.0" height="197.0" fill="none" stroke="#1c1c1c" stroke-width="1.2"/>
<text transform="translate(40.04 602.9) scale(1.083 1)" font-size="20.1" fill="#000" stroke="#000" stroke-width="0.25">10</text>
<text transform="translate(40.48 547.9) scale(1.065 1)" font-size="20.1" fill="#000" stroke="#000" stroke-width="0.25">15</text>
<text transform="translate(39.87 492.9) scale(1.091 1)" font-size="20.1" fill="#000" stroke="#000" stroke-width="0.25">20</text>
<text transform="translate(40.3 436.9) scale(1.074 1)" font-size="20.1" fill="#000" stroke="#000" stroke-width="0.25">25</text>
<text x="750" y="483.6" font-size="19.2" fill="#0000ff" stroke="#0000ff" stroke-width=".3">© vreme.us &amp; vreme.pro</text>
</g>
<g id="precipitation">
<rect x="69.5" y="700.5" width="1025.0" height="197.0" fill="#fafafa"/>
<clipPath id="cP"><rect x="69.5" y="700.5" width="1025.0" height="197.0"/></clipPath>
<g stroke="#000" stroke-opacity=".15" stroke-width="2"><path d="M69.5 736H1094.5"/><path d="M69.5 790H1094.5"/><path d="M69.5 843H1094.5"/><path d="M227.19 700.5V897.5"/><path d="M384.88 700.5V897.5"/><path d="M542.58 700.5V897.5"/><path d="M700.27 700.5V897.5"/><path d="M857.96 700.5V897.5"/><path d="M1015.65 700.5V897.5"/></g>
<g clip-path="url(#cP)">
<rect x="595.12" y="893.8" width="52.2" height="3.2" fill="#0050ff"/>
<rect x="673.97" y="814.9" width="52.2" height="82.1" fill="#0050ff"/>
<rect x="752.82" y="810.8" width="52.2" height="86.2" fill="#0050ff"/>
<rect x="831.66" y="846.9" width="52.2" height="50.1" fill="#0050ff"/>
<rect x="910.51" y="850" width="52.2" height="47" fill="#0050ff"/>
<path d="M59.5 896.4h20" stroke="#555" stroke-width="1.3"/>
<path d="M138.35 896.4h20" stroke="#555" stroke-width="1.3"/>
<path d="M217.19 896.4h20" stroke="#555" stroke-width="1.3"/>
<path d="M296.04 896.4h20" stroke="#555" stroke-width="1.3"/>
<path d="M374.88 896.4h20" stroke="#555" stroke-width="1.3"/>
<path d="M453.73 896.4h20" stroke="#555" stroke-width="1.3"/>
<path d="M532.58 896.4h20" stroke="#555" stroke-width="1.3"/>
<path d="M621.42 805.4V897.5M611.42 805.4h20" stroke="#808080" stroke-width="2.8" fill="none"/>
<path d="M700.27 718.2V897.5M690.27 718.2h20" stroke="#808080" stroke-width="2.8" fill="none"/>
<path d="M779.12 714.4V897.5M769.12 714.4h20" stroke="#808080" stroke-width="2.8" fill="none"/>
<path d="M857.96 766.4V897.5M847.96 766.4h20" stroke="#808080" stroke-width="2.8" fill="none"/>
<path d="M936.81 784.6V897.5M926.81 784.6h20" stroke="#808080" stroke-width="2.8" fill="none"/>
<path d="M1005.65 896.4h20" stroke="#555" stroke-width="1.3"/>
<path d="M1084.5 896.4h20" stroke="#555" stroke-width="1.3"/>
</g>
<rect x="69.5" y="700.5" width="1025.0" height="197.0" fill="none" stroke="#1c1c1c" stroke-width="1.2"/>
<text transform="translate(40.21 743.8) scale(1.075 1)" font-size="20.1" fill="#000" stroke="#000" stroke-width="0.25">30</text>
<text transform="translate(39.87 797.8) scale(1.091 1)" font-size="20.1" fill="#000" stroke="#000" stroke-width="0.25">20</text>
<text transform="translate(40.04 850.8) scale(1.083 1)" font-size="20.1" fill="#000" stroke="#000" stroke-width="0.25">10</text>
<text transform="translate(53.91 893) scale(1.038 1)" font-size="20.1" fill="#000" stroke="#000" stroke-width="0.25">0</text>
<text transform="translate(51.3 692.9) scale(1.06 1)" font-size="20.59" fill="#000" stroke="#000" stroke-width="0.25">pon</text>
<text transform="translate(51.07 926.8) scale(0.973 1)" font-size="26.16" fill="#4dd8e1" stroke="#4dd8e1" stroke-width="0.2">0%</text>
<text transform="translate(134.31 692.9) scale(1.17 1)" font-size="20.59" fill="#000" stroke="#000" stroke-width="0.25">tor</text>
<text transform="translate(129.91 926.8) scale(0.973 1)" font-size="26.16" fill="#4dd8e1" stroke="#4dd8e1" stroke-width="0.2">0%</text>
<text transform="translate(212.41 692.9) scale(1.046 1)" font-size="20.59" fill="#000" stroke="#000" stroke-width="0.25">sre</text>
<text transform="translate(208.76 926.8) scale(0.973 1)" font-size="26.16" fill="#4dd8e1" stroke="#4dd8e1" stroke-width="0.2">0%</text>
<text transform="translate(290.52 692.9) scale(1.101 1)" font-size="20.59" fill="#000" stroke="#000" stroke-width="0.25">čet</text>
<text transform="translate(279.58 926.8) scale(0.991 1)" font-size="26.16" fill="#2f99d2" stroke="#2f99d2" stroke-width="0.2">15%</text>
<text transform="translate(368.37 692.9) scale(1.109 1)" font-size="20.59" fill="#000" stroke="#000" stroke-width="0.25">pet</text>
<text transform="translate(358.65 926.8) scale(0.995 1)" font-size="26.16" fill="#2f99d2" stroke="#2f99d2" stroke-width="0.2">20%</text>
<text transform="translate(446.8 692.9) scale(1.029 1)" font-size="20.59" fill="#000" stroke="#000" stroke-width="0.25">sob</text>
<text transform="translate(437.27 926.8) scale(0.991 1)" font-size="26.16" fill="#2f99d2" stroke="#2f99d2" stroke-width="0.2">15%</text>
<text transform="translate(524.36 692.9) scale(1.059 1)" font-size="20.59" fill="#000" stroke="#000" stroke-width="0.25">ned</text>
<text transform="translate(516.12 926.8) scale(0.991 1)" font-size="26.16" fill="#2f99d2" stroke="#2f99d2" stroke-width="0.2">15%</text>
<text transform="translate(603.23 692.9) scale(1.06 1)" font-size="20.59" fill="#000" stroke="#000" stroke-width="0.25">pon</text>
<text transform="translate(595.62 926.8) scale(0.992 1)" font-size="26.16" fill="#2f99d2" stroke="#2f99d2" stroke-width="0.2">40%</text>
<text transform="translate(686.23 692.9) scale(1.17 1)" font-size="20.59" fill="#000" stroke="#000" stroke-width="0.25">tor</text>
<text transform="translate(673.98 926.8) scale(0.997 1)" font-size="26.16" fill="#115fb4" stroke="#115fb4" stroke-width="0.2">65%</text>
<text transform="translate(764.33 692.9) scale(1.046 1)" font-size="20.59" fill="#000" stroke="#000" stroke-width="0.25">sre</text>
<text transform="translate(752.97 926.8) scale(0.991 1)" font-size="26.16" fill="#115fb4" stroke="#115fb4" stroke-width="0.2">75%</text>
<text transform="translate(842.44 692.9) scale(1.101 1)" font-size="20.59" fill="#000" stroke="#000" stroke-width="0.25">čet</text>
<text transform="translate(831.68 926.8) scale(0.997 1)" font-size="26.16" fill="#115fb4" stroke="#115fb4" stroke-width="0.2">65%</text>
<text transform="translate(920.29 692.9) scale(1.109 1)" font-size="20.59" fill="#000" stroke="#000" stroke-width="0.25">pet</text>
<text transform="translate(911 926.8) scale(0.992 1)" font-size="26.16" fill="#2f99d2" stroke="#2f99d2" stroke-width="0.2">40%</text>
<text transform="translate(998.73 692.9) scale(1.029 1)" font-size="20.59" fill="#000" stroke="#000" stroke-width="0.25">sob</text>
<text transform="translate(989.85 926.8) scale(0.992 1)" font-size="26.16" fill="#2f99d2" stroke="#2f99d2" stroke-width="0.2">40%</text>
<text transform="translate(1076.29 692.9) scale(1.059 1)" font-size="20.59" fill="#000" stroke="#000" stroke-width="0.25">ned</text>
<text transform="translate(1068.63 926.8) scale(0.987 1)" font-size="26.16" fill="#2f99d2" stroke="#2f99d2" stroke-width="0.2">35%</text>
</g>
</svg>
</body>
</html>
